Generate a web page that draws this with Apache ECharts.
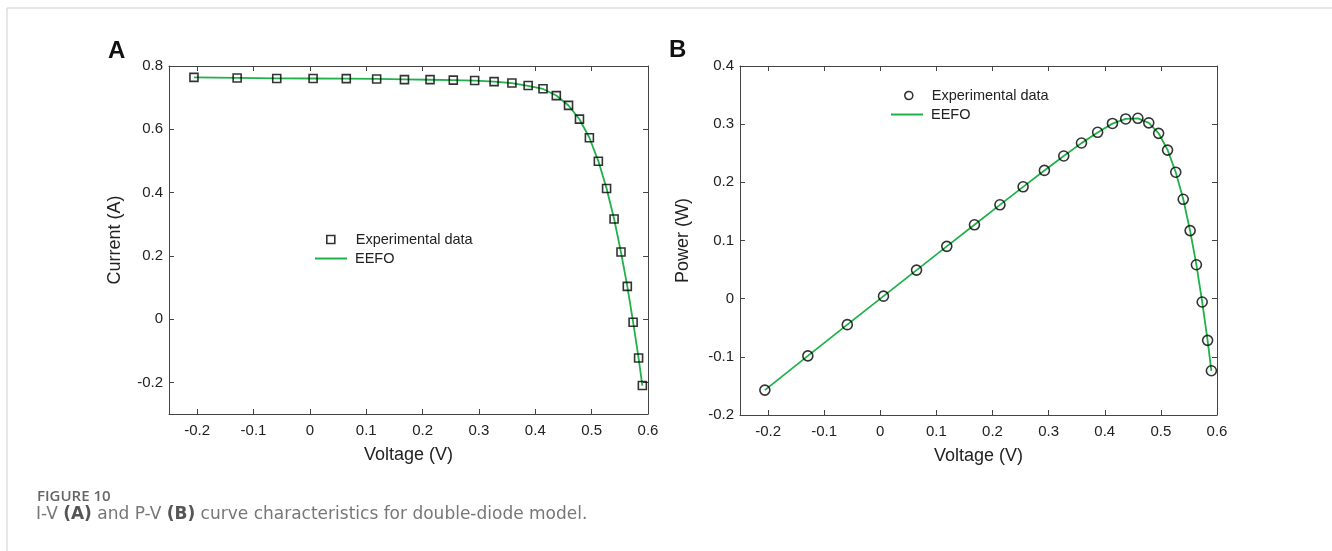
<!DOCTYPE html>
<html><head><meta charset="utf-8">
<script src="https://cdn.jsdelivr.net/npm/echarts@6/dist/echarts.min.js"></script>
<style>html,body{margin:0;padding:0;background:#fff}#c{width:1332px;height:551px}</style>
</head><body><div id="c"></div>
<script>
// ---- data ----
const voltage = [-0.2057, -0.1291, -0.0588, 0.0057, 0.0646, 0.1185, 0.1678, 0.2132, 0.2545, 0.2924, 0.3269, 0.3585, 0.3873, 0.4137, 0.4373, 0.4590, 0.4784, 0.4960, 0.5119, 0.5265, 0.5398, 0.5521, 0.5633, 0.5736, 0.5833, 0.5900];
const current = [0.7640, 0.7620, 0.7605, 0.7605, 0.7600, 0.7590, 0.7570, 0.7570, 0.7555, 0.7540, 0.7505, 0.7465, 0.7385, 0.7280, 0.7065, 0.6755, 0.6320, 0.5730, 0.4990, 0.4130, 0.3165, 0.2120, 0.1035, -0.0100, -0.1230, -0.2100];
const power = [-0.1572, -0.0984, -0.0447, 0.0043, 0.0491, 0.0899, 0.1270, 0.1614, 0.1923, 0.2205, 0.2453, 0.2676, 0.2860, 0.3012, 0.3090, 0.3101, 0.3023, 0.2842, 0.2554, 0.2174, 0.1708, 0.1170, 0.0583, -0.0057, -0.0717, -0.1239];
const modelCurrent = [0.7641, 0.7622, 0.7607, 0.7605, 0.7600, 0.7590, 0.7577, 0.7566, 0.7553, 0.7535, 0.7507, 0.7459, 0.7371, 0.7274, 0.7069, 0.6752, 0.6316, 0.5732, 0.4994, 0.4130, 0.3173, 0.2108, 0.1032, -0.0095, -0.1235, -0.2101];
const modelPower = [-0.1572, -0.0984, -0.0447, 0.0043, 0.0491, 0.0899, 0.1271, 0.1613, 0.1922, 0.2203, 0.2454, 0.2674, 0.2855, 0.3009, 0.3091, 0.3099, 0.3022, 0.2843, 0.2557, 0.2174, 0.1713, 0.1164, 0.0581, -0.0054, -0.0720, -0.1240];
const xTicks = [-0.2, -0.1, 0, 0.1, 0.2, 0.3, 0.4, 0.5, 0.6];
const currentTicks = [-0.2, 0, 0.2, 0.4, 0.6, 0.8];
const powerTicks = [-0.2, -0.1, 0, 0.1, 0.2, 0.3, 0.4];
const seriesNames = ['Experimental data', 'EEFO'];
const xName = 'Voltage (V)';
const yNames = ['Current (A)', 'Power (W)'];
const caption1 = 'FIGURE 10';

// ---- build ----
const FONT = 'Liberation Sans';
const AX = '#444';
const GREEN = '#1fb24a';
const fmt = v => String(parseFloat(Number(v).toFixed(2)));
const pairs = (xs, ys) => xs.map((x, i) => [x, ys[i]]);

function mainX(gi, nameGap) {
  return {
    gridIndex: gi, type: 'value', position: 'bottom', min: -0.25, max: 0.6,
    name: xName, nameLocation: 'middle', nameGap: nameGap,
    nameTextStyle: {fontFamily: FONT, fontSize: 18, color: '#222'},
    axisLine: {show: true, onZero: false, lineStyle: {color: AX, width: 1}},
    axisTick: {show: true, inside: true, length: 5, customValues: xTicks, lineStyle: {color: AX}},
    axisLabel: {customValues: xTicks, formatter: fmt, margin: 9, fontFamily: FONT, fontSize: 15, color: '#222'},
    splitLine: {show: false}
  };
}
function topX(gi) {
  return {
    gridIndex: gi, type: 'value', position: 'top', min: -0.25, max: 0.6,
    axisLine: {show: true, onZero: false, lineStyle: {color: AX, width: 1}},
    axisTick: {show: true, inside: true, length: 5, customValues: xTicks, lineStyle: {color: AX}},
    axisLabel: {show: false}, splitLine: {show: false}
  };
}
function mainY(gi, min, max, ticks, name, nameGap) {
  return {
    gridIndex: gi, type: 'value', position: 'left', min: min, max: max,
    name: name, nameLocation: 'middle', nameGap: nameGap, nameRotate: 90,
    nameTextStyle: {fontFamily: FONT, fontSize: 18, color: '#222'},
    axisLine: {show: true, onZero: false, lineStyle: {color: AX, width: 1}},
    axisTick: {show: true, inside: true, length: 5, customValues: ticks, lineStyle: {color: AX}},
    axisLabel: {customValues: ticks, formatter: fmt, margin: 6, fontFamily: FONT, fontSize: 15, color: '#222'},
    splitLine: {show: false}
  };
}
function rightY(gi, min, max, ticks) {
  return {
    gridIndex: gi, type: 'value', position: 'right', min: min, max: max,
    axisLine: {show: true, onZero: false, lineStyle: {color: AX, width: 1}},
    axisTick: {show: true, inside: true, length: 5, customValues: ticks, lineStyle: {color: AX}},
    axisLabel: {show: false}, splitLine: {show: false}
  };
}

const legendText = {fontFamily: FONT, fontSize: 14.5, color: '#222'};
const option = {
  backgroundColor: '#fff',
  animation: false,
  grid: [
    {left: 169, top: 66, width: 479, height: 348, containLabel: false, outerBoundsMode: 'none'},
    {left: 740, top: 66, width: 477, height: 349, containLabel: false, outerBoundsMode: 'none'}
  ],
  xAxis: [mainX(0, 32), topX(0), mainX(1, 32), topX(1)],
  yAxis: [
    mainY(0, -0.3, 0.8, currentTicks, yNames[0], 45), rightY(0, -0.3, 0.8, currentTicks),
    mainY(1, -0.2, 0.4, powerTicks, yNames[1], 48), rightY(1, -0.2, 0.4, powerTicks)
  ],
  legend: [
    {left: 321, top: 227, padding: 5, orient: 'vertical', selectedMode: false, itemWidth: 8, itemHeight: 8,
     data: [{name: seriesNames[0], icon: 'rect'}],
     itemStyle: {color: 'transparent', borderColor: '#000', borderWidth: 1.6},
     textStyle: Object.assign({padding: [0, 0, 0, 16]}, legendText)},
    {left: 310, top: 246, padding: 5, orient: 'vertical', selectedMode: false, itemWidth: 32, itemHeight: 2, symbolKeepAspect: false,
     data: [{name: seriesNames[1], icon: 'rect'}],
     itemStyle: {color: GREEN, borderWidth: 0},
     textStyle: Object.assign({padding: [0, 0, 0, 3]}, legendText)},
    {left: 899, top: 83, padding: 5, orient: 'vertical', selectedMode: false, itemWidth: 8, itemHeight: 8,
     data: [{name: seriesNames[0], icon: 'circle'}],
     itemStyle: {color: 'transparent', borderColor: '#000', borderWidth: 1.6},
     textStyle: Object.assign({padding: [0, 0, 0, 14]}, legendText)},
    {left: 886, top: 102, padding: 5, orient: 'vertical', selectedMode: false, itemWidth: 32, itemHeight: 2, symbolKeepAspect: false,
     data: [{name: seriesNames[1], icon: 'rect'}],
     itemStyle: {color: GREEN, borderWidth: 0},
     textStyle: Object.assign({padding: [0, 0, 0, 3]}, legendText)}
  ],
  series: [
    {name: seriesNames[1], type: 'line', xAxisIndex: 0, yAxisIndex: 0, data: pairs(voltage, modelCurrent),
     symbol: 'none', smooth: false, lineStyle: {color: GREEN, width: 1.8}, itemStyle: {color: GREEN}, z: 2},
    {name: seriesNames[0], type: 'scatter', xAxisIndex: 0, yAxisIndex: 0, data: pairs(voltage, current),
     symbol: 'rect', symbolSize: 8, itemStyle: {color: 'transparent', borderColor: '#000', borderWidth: 1.6}, z: 3},
    {name: seriesNames[1], type: 'line', xAxisIndex: 2, yAxisIndex: 2, data: pairs(voltage, modelPower),
     symbol: 'none', smooth: false, lineStyle: {color: GREEN, width: 1.8}, itemStyle: {color: GREEN}, z: 2},
    {name: seriesNames[0], type: 'scatter', xAxisIndex: 2, yAxisIndex: 2, data: pairs(voltage, power),
     symbol: 'circle', symbolSize: 10, itemStyle: {color: 'transparent', borderColor: '#000', borderWidth: 1.6}, z: 3}
  ],
  graphic: [
    {type: 'polyline', silent: true, shape: {points: [[7, 560], [7, 8], [1340, 8]]}, style: {stroke: '#cfcfcf', lineWidth: 1, fill: null}},
    {type: 'text', left: 108, top: 39, style: {text: 'A', fontFamily: FONT, fontWeight: 'bold', fontSize: 24, fill: '#111'}},
    {type: 'text', left: 669, top: 38, style: {text: 'B', fontFamily: FONT, fontWeight: 'bold', fontSize: 24, fill: '#111'}},
    {type: 'text', left: 37, top: 489, style: {text: caption1, fontFamily: 'Open Sans', fontWeight: 600, fontSize: 15, fill: '#666'}},
    {type: 'text', left: 36, top: 506, style: {
      text: 'I-V {b|(A)} and P-V {b|(B)} curve characteristics for double-diode model.',
      fontFamily: 'DejaVu Sans', fontWeight: 'normal', fontSize: 17, fill: '#777',
      rich: {b: {fontFamily: 'DejaVu Sans', fontWeight: 'bold', fontSize: 17, fill: '#555'}}
    }}
  ]
};
echarts.init(document.getElementById('c'), null, {renderer: 'canvas'}).setOption(option);
</script></body></html>
